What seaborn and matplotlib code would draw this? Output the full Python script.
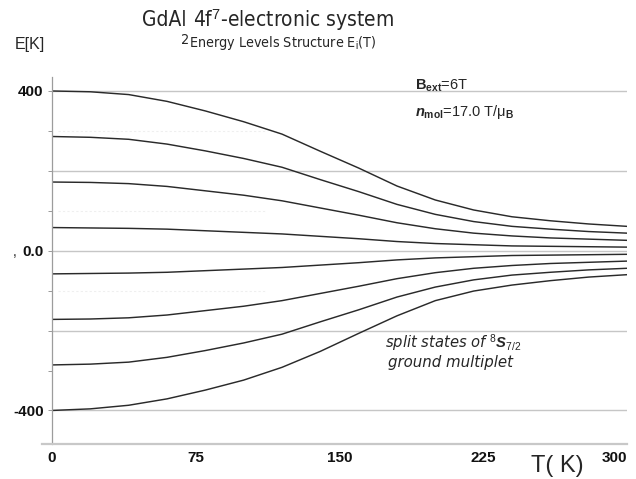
import numpy as np
import pandas as pd
import matplotlib
matplotlib.use("Agg")
import matplotlib.pyplot as plt
from matplotlib import font_manager as fm
import seaborn as sns

# Temperature grid (K) and the eight Zeeman/exchange-split levels of the 8S7/2 multiplet (K)
T_K = [0, 20, 40, 60, 80, 100, 120, 140, 160, 180, 200, 220, 240, 260, 280, 300]
level_names = ["+7/2", "+5/2", "+3/2", "+1/2", "-1/2", "-3/2", "-5/2", "-7/2"]
E_p72 = [400, 398, 391, 374, 350, 323, 292, 249, 207, 162, 127, 102, 85, 75, 67, 61]
E_p52 = [286, 284, 279, 267, 250, 231, 209, 178, 148, 116, 91, 73, 61, 54, 48, 44]
E_p32 = [172, 171, 168, 161, 150, 139, 125, 107, 89, 70, 55, 44, 37, 32, 29, 26]
E_p12 = [58, 57, 56, 54, 50, 46, 42, 36, 30, 23, 18, 15, 12, 11, 10, 9]
E_m12 = [-58, -57, -56, -54, -50, -46, -42, -36, -30, -23, -18, -15, -12, -11, -10, -9]
E_m32 = [-172, -171, -168, -161, -150, -139, -125, -107, -89, -70, -55, -44, -37, -32, -29, -26]
E_m52 = [-286, -284, -279, -267, -250, -231, -209, -178, -148, -116, -91, -73, -61, -54, -48, -44]
E_m72 = [-400, -396, -387, -371, -349, -324, -292, -252, -207, -163, -125, -101, -86, -75, -66, -60]
levels = [E_p72, E_p52, E_p32, E_p12, E_m12, E_m32, E_m52, E_m72]

x_ticks = [0, 75, 150, 225, 300]
x_ticklabels = ["0", "75", "150", "225", "300"]
y_ticks = [400, 0, -400]
y_ticklabels = ["400", "0.0", "-400"]

df = pd.DataFrame({
    "T": T_K * len(levels),
    "E": [e for lev in levels for e in lev],
    "level": [name for name in level_names for _ in T_K],
})

sns.set_theme(style="white")
plt.rcParams["font.family"] = ["Liberation Sans", "DejaVu Sans"]
plt.rcParams["mathtext.fontset"] = "custom"
plt.rcParams["mathtext.rm"] = "Liberation Sans"
plt.rcParams["mathtext.bf"] = "Liberation Sans:bold"
plt.rcParams["mathtext.it"] = "Liberation Sans:bold:italic"


def narrow_font():
    """Return font kwargs for a condensed sans face if one is installed."""
    try:
        fm.findfont(fm.FontProperties(family="Liberation Sans Narrow"), fallback_to_default=False)
        return dict(family="Liberation Sans Narrow"), True
    except Exception:
        pass
    path = fm.findfont(fm.FontProperties(family="DejaVu Sans", stretch="condensed"))
    if "Condensed" in path:
        return dict(family="DejaVu Sans", stretch="condensed"), True
    return dict(family="Liberation Sans"), False


NARROW, HAVE_NARROW = narrow_font()

W, H = 636, 479
fig = plt.figure(figsize=(W / 100, H / 100), dpi=100)
fig.patch.set_facecolor("white")


def fx(px):
    return px / W


def fy(py):
    return 1 - py / H


ax = fig.add_axes([fx(52), fy(444), (627 - 52) / W, (444 - 77) / H])

# reference grid lines
for yv in [400, 200, 0, -200, -400]:
    ax.axhline(yv, color="#c6c6c6", lw=1.0, zorder=0)
for yv in [300, 100, -100]:
    ax.axhline(yv, xmin=0.01, xmax=0.37, color="#efefef", lw=0.8, ls=(0, (2, 2)), zorder=0)

sns.lineplot(data=df, x="T", y="E", units="level", estimator=None,
             color="#2a2a2a", linewidth=1.05, ax=ax, legend=False)

ax.set_xlim(0, 300)
ax.set_ylim(-484, 435)
ax.set_xlabel("")
ax.set_ylabel("")

ax.set_xticks(x_ticks)
ax.set_xticklabels(x_ticklabels, fontsize=11, fontweight="bold")
ax.set_yticks(y_ticks)
ax.set_yticklabels(y_ticklabels, fontsize=11, fontweight="bold")
ax.set_yticks([300, 200, 100, -100, -200, -300], minor=True)
ax.tick_params(axis="x", length=0, pad=5, colors="#111111")
ax.tick_params(axis="y", which="both", length=3, width=0.7, color="#999999",
               pad=3, direction="out", left=True, labelcolor="#111111")
ax.xaxis.get_majorticklabels()[-1].set_horizontalalignment("right")

for side in ["top", "right"]:
    ax.spines[side].set_visible(False)
ax.spines["left"].set_color("#9c9c9c")
ax.spines["left"].set_linewidth(0.9)
ax.spines["bottom"].set_color("#c8c8c8")
ax.spines["bottom"].set_linewidth(1.6)
ax.spines["bottom"].set_bounds(-5.2, 300)

# titles, laid out piece by piece so the subscript "2" sits low beside the subtitle
big = 15 if HAVE_NARROW else 14
small = 10.3 if HAVE_NARROW else 9.5
fig.canvas.draw()
r = fig.canvas.get_renderer()
t1 = fig.text(fx(142), fy(20), "GdAl", fontsize=big, va="center", ha="left", **NARROW)
bb = t1.get_window_extent(r)
t2 = fig.text((bb.x1 - 5) / W, fy(40), "2", fontsize=small, va="center", ha="left", **NARROW)
bb2 = t2.get_window_extent(r)
fig.text((bb2.x1 + 3) / W, fy(20), r"4f$^{\mathrm{7}}$-electronic system", fontsize=big,
         va="center", ha="left", **NARROW)
fig.text((bb2.x1 - 1) / W, fy(43), r"Energy Levels Structure E$_{\mathrm{i}}$(T)", fontsize=small,
         va="center", ha="left", **NARROW)

fig.text(fx(15), fy(44), "E[K]", fontsize=11.5, va="center", ha="left")
fig.text(fx(13), fy(252), ",", fontsize=10, va="center", ha="left")
fig.text(fx(557), fy(466), "T( K)", fontsize=17, va="center", ha="center")

# field annotations
fig.text(fx(415), fy(86), r"$\mathbf{B}_{\mathbf{ext}}$=6T", fontsize=10.5, va="center", ha="left")
fig.text(fx(415), fy(112), r"$\mathit{n}_{\mathbf{mol}}$=17.0 T/μ$_{\mathbf{B}}$", fontsize=10.5,
         va="center", ha="left")

fig.text(fx(453), fy(343), r"split states of $^{\mathrm{8}}\mathit{S}_{\mathit{7/2}}$", fontsize=10.6,
         family="DejaVu Sans", style="italic", va="center", ha="center")
fig.text(fx(451), fy(363), "ground multiplet", fontsize=10.8,
         family="DejaVu Sans", style="italic", va="center", ha="center")

fig.savefig("out.png", dpi=100, facecolor="white")
